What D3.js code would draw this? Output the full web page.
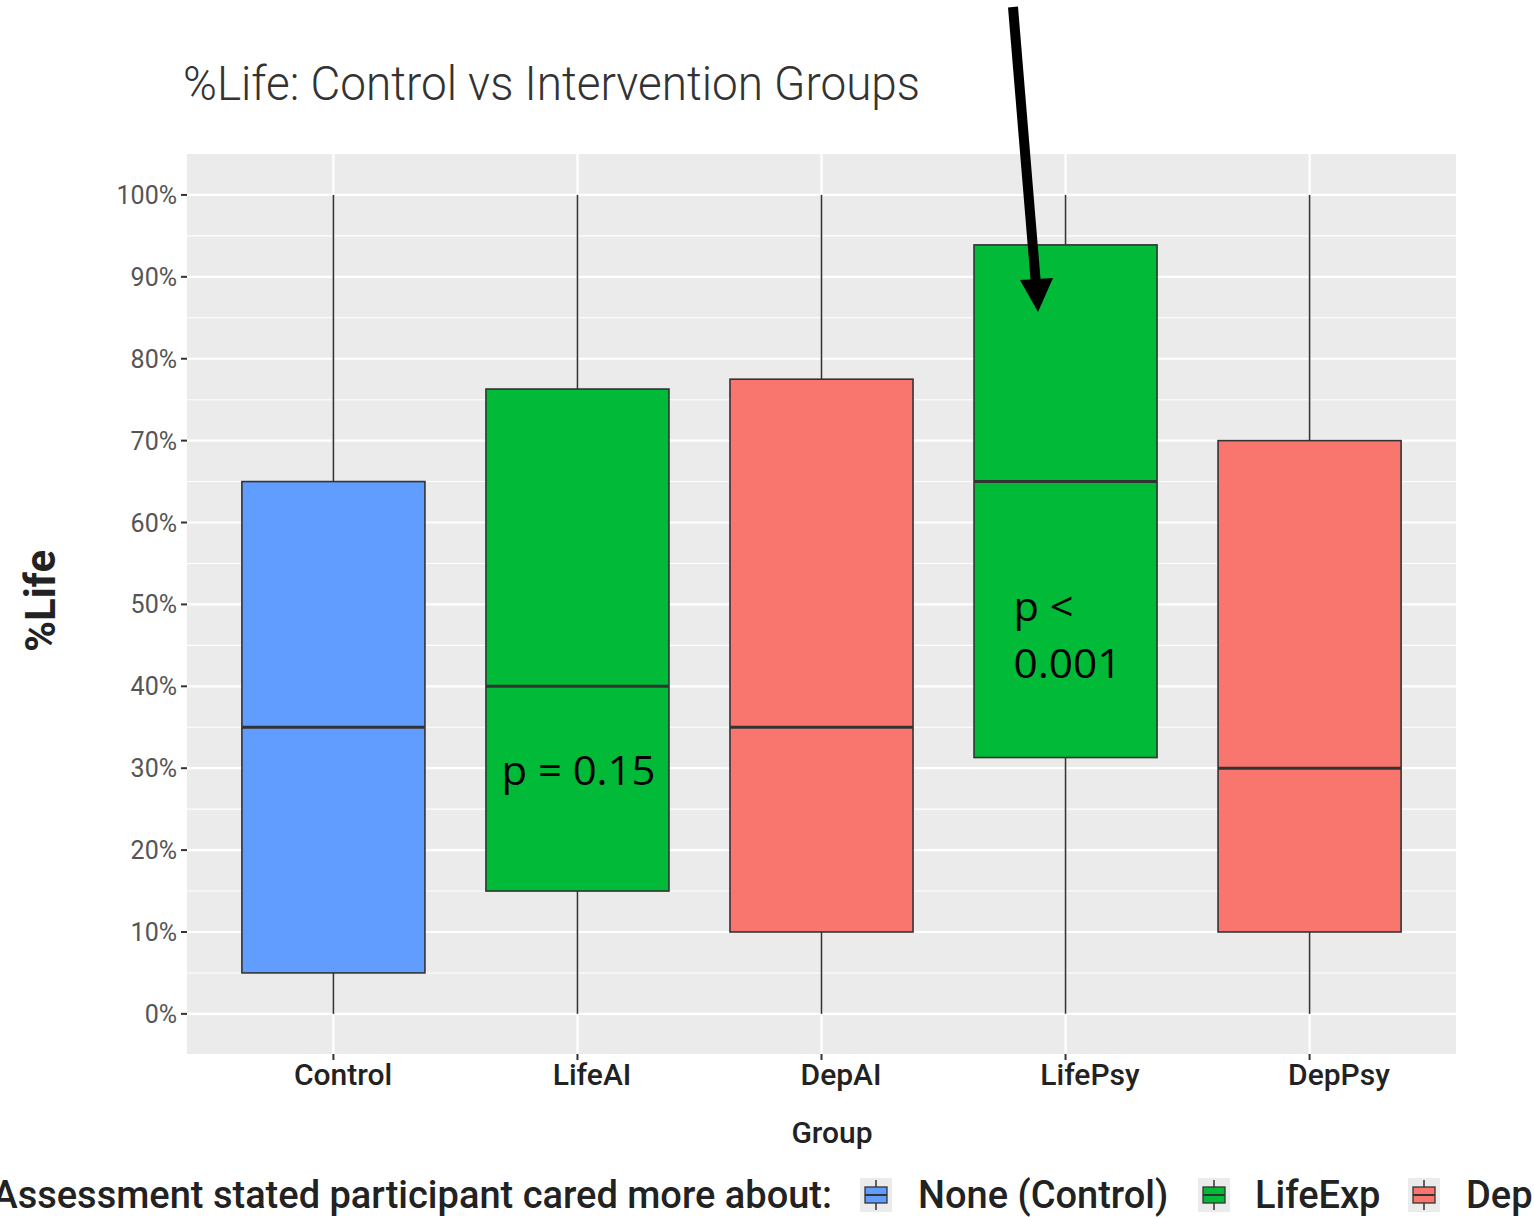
<!DOCTYPE html>
<html><head><meta charset="utf-8">
<script src="https://cdn.jsdelivr.net/npm/d3@7"></script>
<style>body{margin:0;background:#fff}svg{display:block}</style>
</head><body>
<script>
// ---- data ----
const groups = ["Control", "LifeAI", "DepAI", "LifePsy", "DepPsy"];
const fillKeys = ["None (Control)", "LifeExp", "Dep", "LifeExp", "Dep"];
const yMin = [0, 0, 0, 0, 0];
const q1 = [5, 15, 10, 31.3, 10];
const medians = [35, 40, 35, 65, 30];
const q3 = [65, 76.3, 77.5, 93.9, 70];
const yMax = [100, 100, 100, 100, 100];
const yTicks = [0, 10, 20, 30, 40, 50, 60, 70, 80, 90, 100];
const yMinorTicks = [5, 15, 25, 35, 45, 55, 65, 75, 85, 95];
const legendLabels = ["None (Control)", "LifeExp", "Dep"];
const legendColors = ["#619CFF", "#00BA38", "#F8766D"];
const titleText = "%Life: Control vs Intervention Groups";
const legendTitle = "Assessment stated participant cared more about:";

const W = 1534, H = 1217;
const panel = {x0: 187, x1: 1456, y0: 154, y1: 1054};

const svg = d3.select("body").append("svg").attr("width", W).attr("height", H);

const x = d3.scalePoint().domain(groups).range([panel.x0, panel.x1]).padding(0.6);
const step = x.step();
const labelX = d3.scalePoint().domain(groups).range([343, 1339]);
const y = d3.scaleLinear().domain([-4.9, 105]).range([panel.y1, panel.y0]);
const color = d3.scaleOrdinal().domain(legendLabels).range(legendColors);

// panel background
svg.append("rect").attr("x", panel.x0).attr("y", panel.y0)
  .attr("width", panel.x1 - panel.x0).attr("height", panel.y1 - panel.y0)
  .attr("fill", "#EBEBEB");

// grid
const grid = svg.append("g");
grid.selectAll(".minor").data(yMinorTicks).join("line")
  .attr("x1", panel.x0).attr("x2", panel.x1)
  .attr("y1", d => y(d)).attr("y2", d => y(d))
  .attr("stroke", "#fff").attr("stroke-width", 1.1);
grid.selectAll(".major").data(yTicks).join("line")
  .attr("x1", panel.x0).attr("x2", panel.x1)
  .attr("y1", d => y(d)).attr("y2", d => y(d))
  .attr("stroke", "#fff").attr("stroke-width", 2.2);
grid.selectAll(".vmajor").data(groups).join("line")
  .attr("x1", d => x(d)).attr("x2", d => x(d))
  .attr("y1", panel.y0).attr("y2", panel.y1)
  .attr("stroke", "#fff").attr("stroke-width", 2.2);

// boxes
const rows = groups.map((g, i) => ({g, k: fillKeys[i], lo: yMin[i], q1: q1[i], med: medians[i], q3: q3[i], hi: yMax[i]}));
const bw = step * 0.75;
const boxes = svg.append("g").selectAll("g").data(rows).join("g");
boxes.append("line").attr("x1", d => x(d.g)).attr("x2", d => x(d.g))
  .attr("y1", d => y(d.q3)).attr("y2", d => y(d.hi))
  .attr("stroke", "#333").attr("stroke-width", 1.6);
boxes.append("line").attr("x1", d => x(d.g)).attr("x2", d => x(d.g))
  .attr("y1", d => y(d.q1)).attr("y2", d => y(d.lo))
  .attr("stroke", "#333").attr("stroke-width", 1.6);
boxes.append("rect").attr("x", d => x(d.g) - bw / 2).attr("width", bw)
  .attr("y", d => y(d.q3)).attr("height", d => y(d.q1) - y(d.q3))
  .attr("fill", d => color(d.k)).attr("stroke", "#333").attr("stroke-width", 1.6);
boxes.append("line").attr("x1", d => x(d.g) - bw / 2).attr("x2", d => x(d.g) + bw / 2)
  .attr("y1", d => y(d.med)).attr("y2", d => y(d.med))
  .attr("stroke", "#333").attr("stroke-width", 3);

// y axis
const yAx = svg.append("g");
yAx.selectAll("line").data(yTicks).join("line")
  .attr("x1", panel.x0 - 6).attr("x2", panel.x0)
  .attr("y1", d => y(d)).attr("y2", d => y(d))
  .attr("stroke", "#333").attr("stroke-width", 2);
yAx.selectAll("text").data(yTicks).join("text")
  .attr("x", panel.x0 - 10).attr("y", d => y(d)).attr("dy", "0.36em")
  .attr("text-anchor", "end").attr("font-family", "Roboto").attr("font-size", 25)
  .attr("fill", "#555").text(d => d + "%");

// x axis
const xAx = svg.append("g");
xAx.selectAll("line").data(groups).join("line")
  .attr("x1", d => x(d)).attr("x2", d => x(d))
  .attr("y1", panel.y1).attr("y2", panel.y1 + 6)
  .attr("stroke", "#333").attr("stroke-width", 2);
xAx.selectAll("text").data(groups).join("text")
  .attr("x", d => labelX(d)).attr("y", 1085)
  .attr("text-anchor", "middle").attr("font-family", "Roboto").attr("font-weight", 500)
  .attr("font-size", 30).attr("fill", "#222").text(d => d);

// axis titles
svg.append("text").attr("x", 832).attr("y", 1143).attr("text-anchor", "middle")
  .attr("font-family", "Roboto").attr("font-weight", 500).attr("font-size", 30)
  .attr("fill", "#222").text("Group");
svg.append("text").attr("transform", "translate(55,601) rotate(-90)")
  .attr("text-anchor", "middle").attr("font-family", "Roboto").attr("font-weight", 700)
  .attr("font-size", 42).attr("fill", "#222").text("%Life");

// title
svg.append("text").attr("x", 183).attr("y", 100)
  .attr("font-family", "Roboto").attr("font-weight", 300).attr("font-size", 48)
  .attr("fill", "#333").attr("textLength", 737).attr("lengthAdjust", "spacingAndGlyphs")
  .text(titleText);

// legend
const legY = 1195;
svg.append("text").attr("x", 832).attr("y", 1208).attr("text-anchor", "end")
  .attr("font-family", "Roboto").attr("font-weight", 500).attr("font-size", 38)
  .attr("fill", "#222").text(legendTitle);
const legX = [860, 1198, 1408];
const legTextX = [918, 1255, 1466];
const leg = svg.append("g").selectAll("g").data(legendLabels).join("g")
  .attr("transform", (d, i) => `translate(${legX[i]},${legY})`);
leg.append("rect").attr("x", 0).attr("y", -17).attr("width", 32).attr("height", 34).attr("fill", "#EBEBEB");
leg.append("line").attr("x1", 16).attr("x2", 16).attr("y1", -15).attr("y2", 15).attr("stroke", "#333").attr("stroke-width", 1.5);
leg.append("rect").attr("x", 5).attr("y", -8).attr("width", 22).attr("height", 16)
  .attr("fill", d => color(d)).attr("stroke", "#333").attr("stroke-width", 1.3);
leg.append("line").attr("x1", 5).attr("x2", 27).attr("y1", 0).attr("y2", 0).attr("stroke", "#333").attr("stroke-width", 2);
leg.append("text").attr("x", (d, i) => legTextX[i] - legX[i]).attr("y", 13)
  .attr("font-family", "Roboto").attr("font-weight", 500).attr("font-size", 38)
  .attr("fill", "#222").text(d => d);

// annotations
const ann = svg.append("g").attr("font-family", "'Open Sans'").attr("font-size", 40).attr("fill", "#000");
ann.append("text").attr("x", x("LifeAI") - 76).attr("y", 785).attr("textLength", 154).attr("lengthAdjust", "spacingAndGlyphs").text("p = 0.15");
ann.append("text").attr("x", x("LifePsy") - 52).attr("y", 621).attr("textLength", 60).attr("lengthAdjust", "spacingAndGlyphs").text("p <");
ann.append("text").attr("x", x("LifePsy") - 52).attr("y", 678).attr("textLength", 108).attr("lengthAdjust", "spacingAndGlyphs").text("0.001");

// arrow
svg.append("line").attr("x1", 1013).attr("y1", 7).attr("x2", 1036).attr("y2", 285)
  .attr("stroke", "#000").attr("stroke-width", 10);
svg.append("path").attr("d", "M1020,280 L1053,278 L1038,312 Z").attr("fill", "#000");
</script>
</body></html>
